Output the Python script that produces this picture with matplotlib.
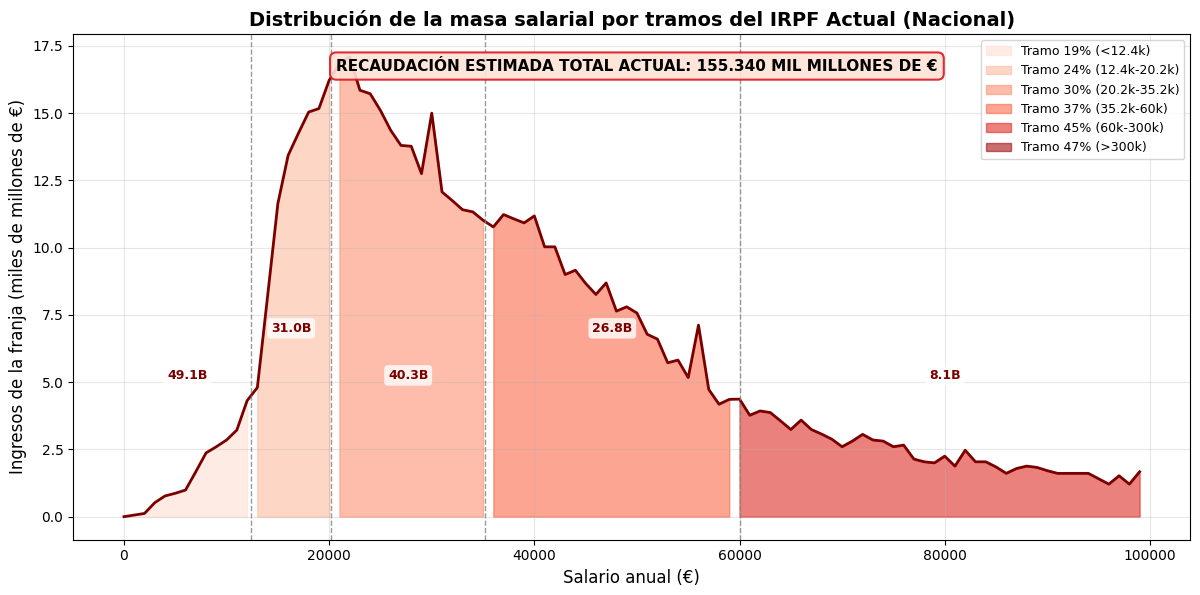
import numpy as np
import matplotlib
matplotlib.use('Agg')
import matplotlib.pyplot as plt
from matplotlib.patches import Patch

# salario anual (tramos de 1000 €)
salarios = np.arange(0, 100000, 1000)

# ingresos de cada franja (miles de millones de €)
ingresos = [
    0.00, 0.06, 0.12, 0.52, 0.77, 0.87, 0.99, 1.67, 2.37, 2.60,
    2.85, 3.22, 4.31, 4.80, 8.20, 11.64, 13.43, 14.25, 15.04, 15.17,
    16.22, 16.85, 17.09, 15.85, 15.72, 15.10, 14.36, 13.80, 13.77, 12.75,
    15.00, 12.07, 11.75, 11.41, 11.33, 11.02, 10.77, 11.23, 11.07, 10.92,
    11.18, 10.03, 10.03, 9.00, 9.16, 8.67, 8.26, 8.69, 7.64, 7.80,
    7.57, 6.78, 6.60, 5.72, 5.82, 5.17, 7.12, 4.73, 4.18, 4.36,
    4.37, 3.77, 3.93, 3.87, 3.56, 3.24, 3.59, 3.24, 3.07, 2.88,
    2.60, 2.81, 3.06, 2.85, 2.81, 2.60, 2.66, 2.14, 2.04, 2.00,
    2.25, 1.88, 2.47, 2.04, 2.04, 1.85, 1.61, 1.79, 1.88, 1.83,
    1.71, 1.61, 1.61, 1.61, 1.61, 1.41, 1.21, 1.52, 1.21, 1.67,
]

# limites de los tramos del IRPF
limites = [0, 12400, 20200, 35200, 60000, 300000, np.inf]
tramos = ['Tramo 19% (<12.4k)', 'Tramo 24% (12.4k-20.2k)', 'Tramo 30% (20.2k-35.2k)',
          'Tramo 37% (35.2k-60k)', 'Tramo 45% (60k-300k)', 'Tramo 47% (>300k)']
colores = ['#fee0d2', '#fcbba1', '#fc9272', '#fb6a4a', '#de2d26', '#a50f15']
recaudacion = ['49.1B', '31.0B', '40.3B', '26.8B', '8.1B']
pos_etiquetas = [6200, 16300, 27700, 47600, 80000]
total = '155.340'

x = np.array(salarios)
y = np.array(ingresos)

fig, ax = plt.subplots(figsize=(12, 5.95), dpi=100)
fig.subplots_adjust(left=0.061, right=0.992, bottom=0.093, top=0.943)

# relleno por tramo
for i in range(len(tramos)):
    m = (x >= limites[i]) & (x < limites[i + 1])
    if m.any():
        ax.fill_between(x[m], 0, y[m], color=colores[i], alpha=0.6)

ax.plot(x, y, color='#7a0000', linewidth=2)

# lineas de separacion de tramos
for lim in limites[1:5]:
    if lim < 100000:
        ax.axvline(lim, color='gray', linestyle='--', linewidth=1, alpha=0.8)

# etiquetas de recaudacion por tramo
for i, (xe, txt) in enumerate(zip(pos_etiquetas, recaudacion)):
    ye = 5.25 if i % 2 == 0 else 7.0
    ax.text(xe, ye, txt, ha='center', va='center', fontsize=9, fontweight='bold',
            color='#7a0000',
            bbox=dict(boxstyle='round,pad=0.3', facecolor='white', edgecolor='none', alpha=0.8))

ax.text(50000, 16.75, f'RECAUDACIÓN ESTIMADA TOTAL ACTUAL: {total} MIL MILLONES DE €',
        ha='center', va='center', fontsize=11, fontweight='bold', color='black',
        bbox=dict(boxstyle='round,pad=0.4', facecolor='#fde3d6', edgecolor='#e0141e',
                  linewidth=1.5, alpha=0.9))

handles = [Patch(facecolor=c, edgecolor=c, alpha=0.6, label=t) for c, t in zip(colores, tramos)]
ax.legend(handles=handles, loc='upper right', fontsize=9)

ax.set_title('Distribución de la masa salarial por tramos del IRPF Actual (Nacional)',
             fontsize=14, fontweight='bold')
ax.set_xlabel('Salario anual (€)', fontsize=12)
ax.set_ylabel('Ingresos de la franja (miles de millones de €)', fontsize=12)
ax.grid(True, alpha=0.3)

fig.savefig('out.png', dpi=100)
